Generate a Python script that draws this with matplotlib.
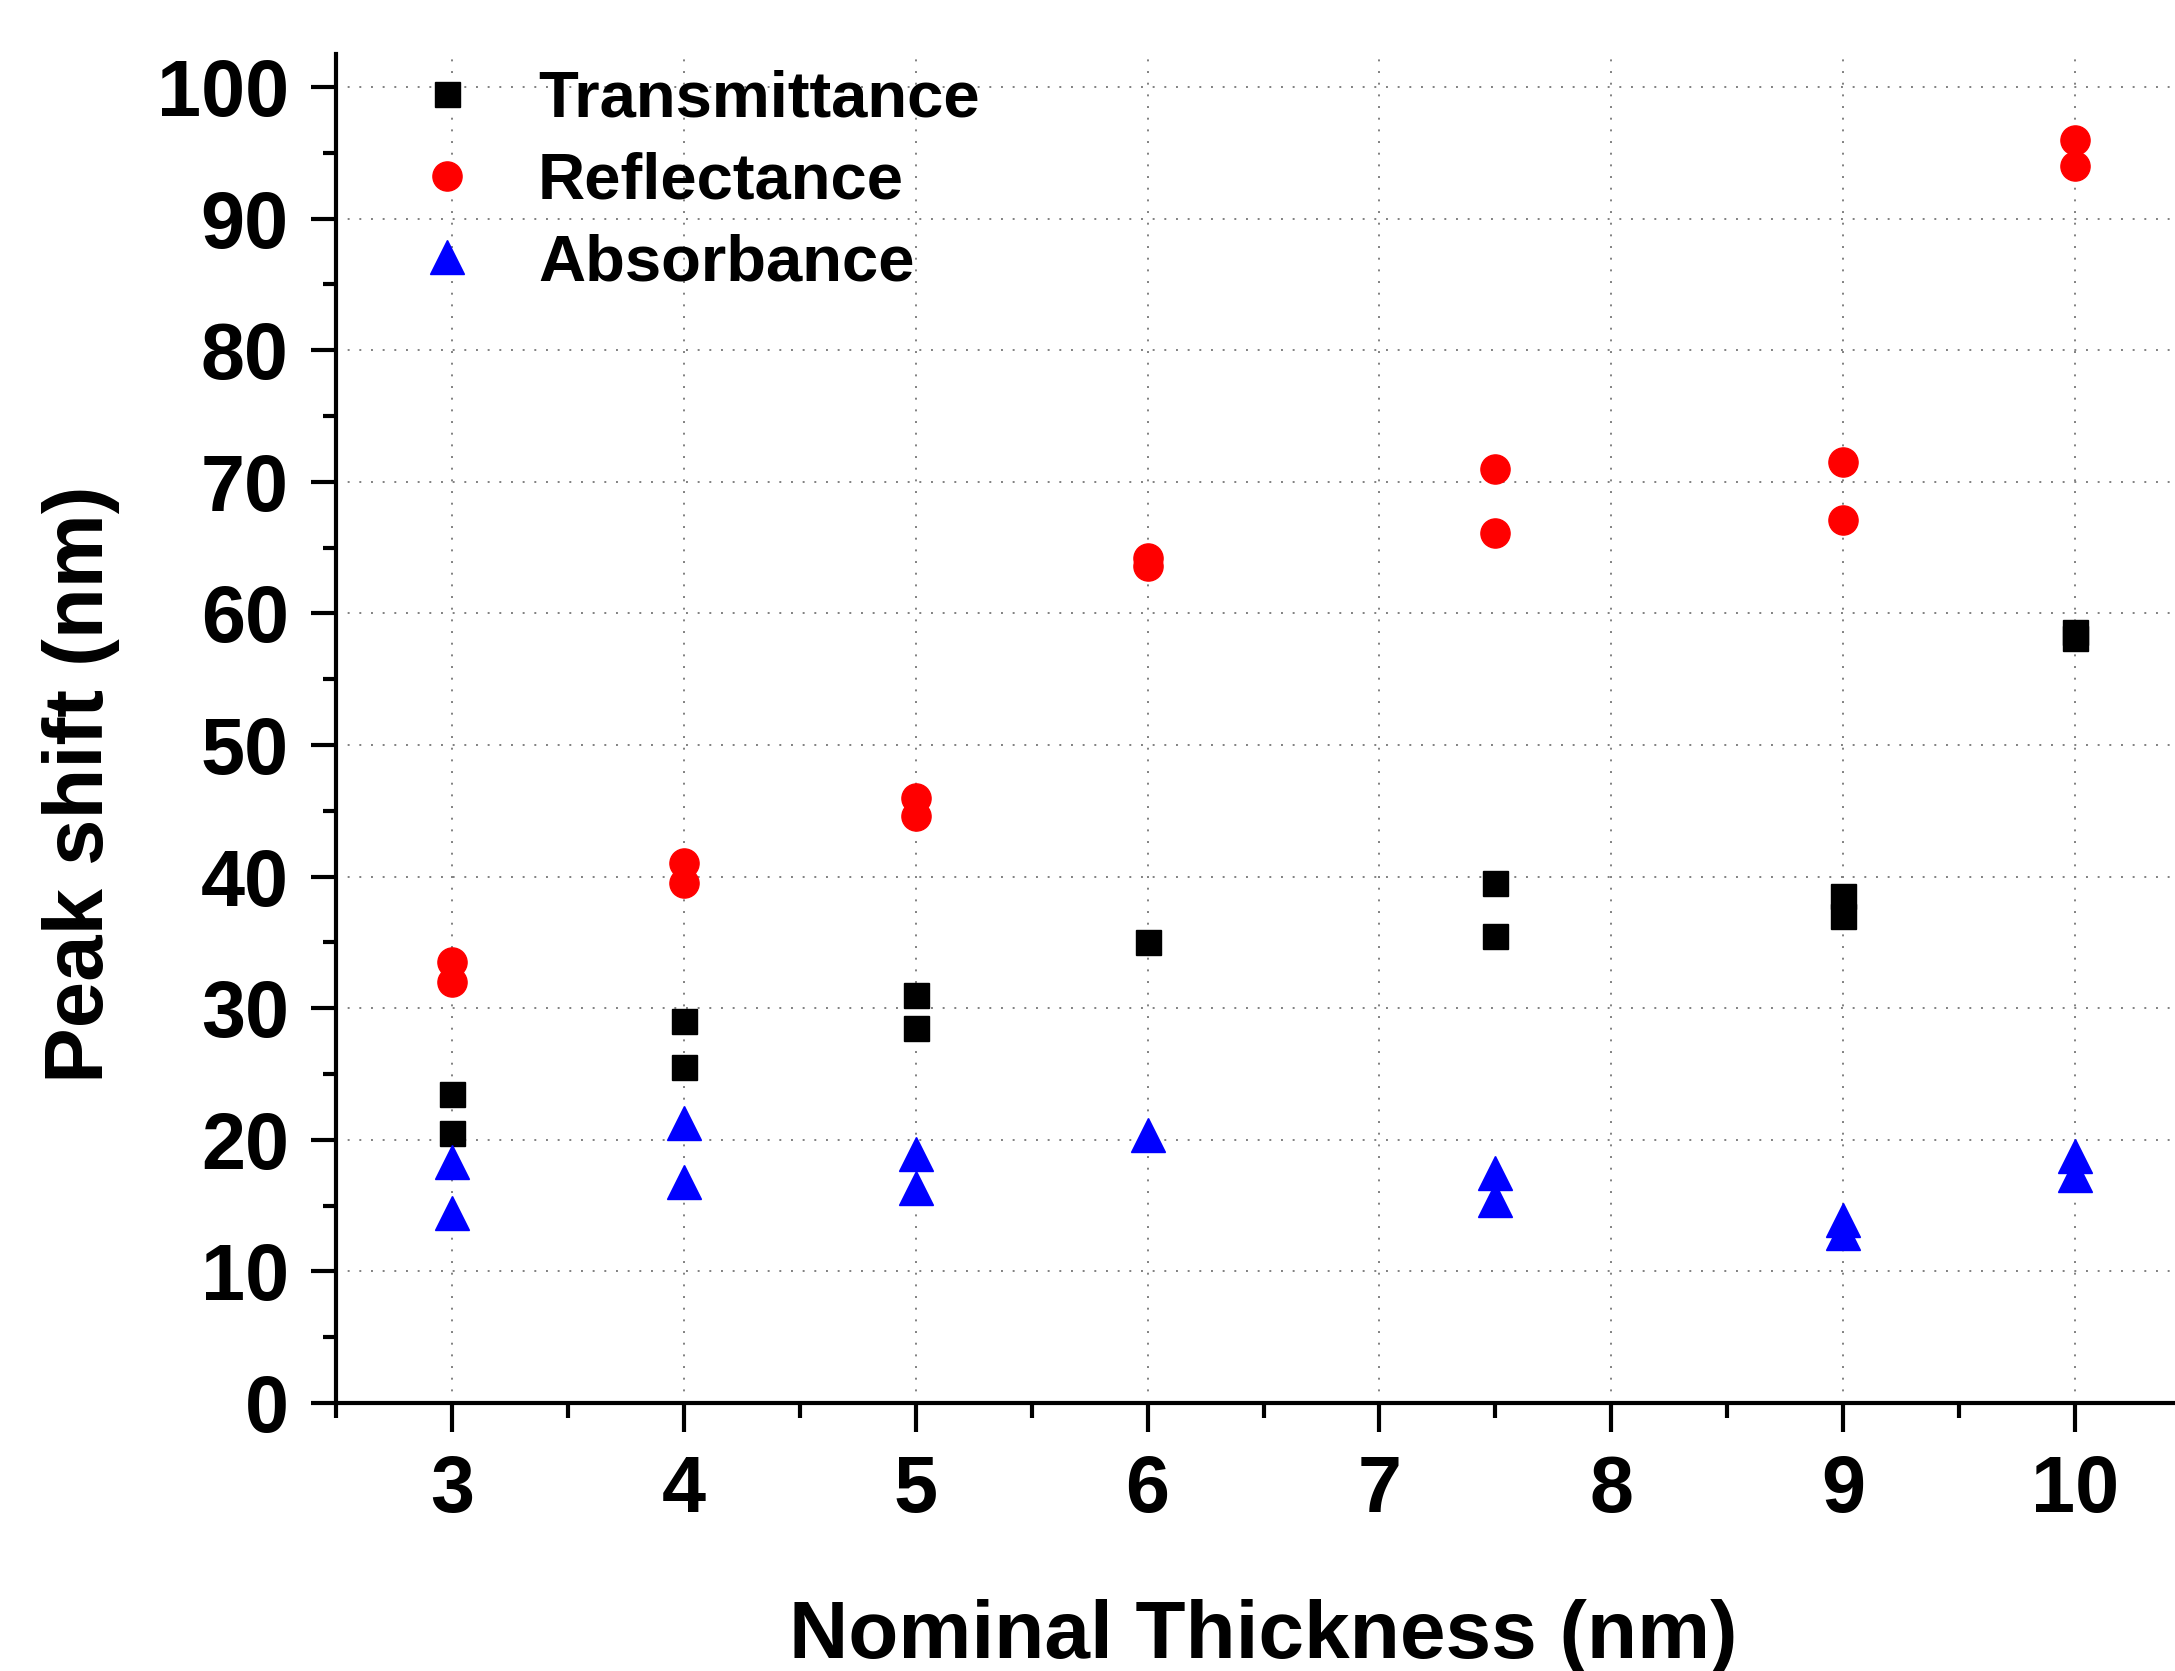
import matplotlib
matplotlib.use("Agg")
import matplotlib.pyplot as plt
from matplotlib.ticker import MultipleLocator, FixedLocator

# ---- data ----
trans_x = [3, 3, 4, 4, 5, 5, 6, 7.5, 7.5, 9, 9, 10, 10]
trans_y = [23.5, 20.5, 29.0, 25.5, 31.0, 28.5, 35.0, 39.5, 35.5, 38.5, 37.0, 58.6, 58.1]

refl_x = [3, 3, 4, 4, 5, 5, 6, 6, 7.5, 7.5, 9, 9, 10, 10]
refl_y = [33.5, 32.0, 41.0, 39.5, 46.0, 44.6, 64.2, 63.6, 71.0, 66.1, 71.5, 67.1, 96.0, 94.0]

abs_x = [3, 3, 4, 4, 5, 5, 6, 7.5, 7.5, 9, 9, 10, 10]
abs_y = [18.3, 14.4, 21.3, 16.8, 18.9, 16.3, 20.4, 17.5, 15.4, 13.9, 12.9, 18.8, 17.3]

x_ticks = [3, 4, 5, 6, 7, 8, 9, 10]
y_ticks = [0, 10, 20, 30, 40, 50, 60, 70, 80, 90, 100]
series_names = ["Transmittance", "Reflectance", "Absorbance"]

plt.rcParams['font.family'] = ['Liberation Sans', 'DejaVu Sans']
plt.rcParams['font.weight'] = 'bold'

W, H = 2175, 1671
fig = plt.figure(figsize=(W / 100, H / 100), dpi=100)
L, B, R, T = 336, 1403, 2191, 54
ax = fig.add_axes([L / W, (H - B) / H, (R - L) / W, (B - T) / H])

ax.plot(trans_x, trans_y, linestyle='none', marker='s', markersize=18,
        color='black', label=series_names[0], zorder=3)
ax.plot(refl_x, refl_y, linestyle='none', marker='o', markersize=21,
        color='#ff0000', label=series_names[1], zorder=3)
ax.plot(abs_x, abs_y, linestyle='none', marker='^', markersize=24,
        color='#0000ff', label=series_names[2], zorder=3)

ax.set_xlim(2.5, 10.5)
ax.set_ylim(0, 102.5)

ax.xaxis.set_major_locator(FixedLocator(x_ticks))
ax.xaxis.set_minor_locator(MultipleLocator(0.5))
ax.yaxis.set_major_locator(FixedLocator(y_ticks))
ax.yaxis.set_minor_locator(MultipleLocator(5))

for s in ['top', 'right']:
    ax.spines[s].set_visible(False)
for s in ['left', 'bottom']:
    ax.spines[s].set_linewidth(3)

ax.tick_params(axis='x', which='major', direction='out', length=21, width=3,
               pad=16, labelsize=57)
ax.tick_params(axis='x', which='minor', direction='out', length=10.5, width=3)
ax.tick_params(axis='y', which='major', direction='out', length=18, width=3,
               pad=16, labelsize=57)
ax.tick_params(axis='y', which='minor', direction='out', length=9.5, width=3)
for lab in ax.get_xticklabels() + ax.get_yticklabels():
    lab.set_fontweight('bold')

ax.grid(True, which='major', color='#808080', linestyle=(0, (1, 5)), linewidth=1.4)
ax.set_axisbelow(True)

ax.set_xlabel("Nominal Thickness (nm)", fontsize=59, fontweight='bold', labelpad=50)
ax.set_ylabel("Peak shift (nm)", fontsize=60, fontweight='bold')
ax.yaxis.set_label_coords(-0.1164, 0.459)

leg = ax.legend(loc='upper left', bbox_to_anchor=(0.028, 1.0075), frameon=False,
                fontsize=47, handlelength=1.0, handletextpad=0.9,
                labelspacing=0.33, borderaxespad=0, numpoints=1)
for t in leg.get_texts():
    t.set_fontweight('bold')

fig.savefig("out.png", dpi=100)
